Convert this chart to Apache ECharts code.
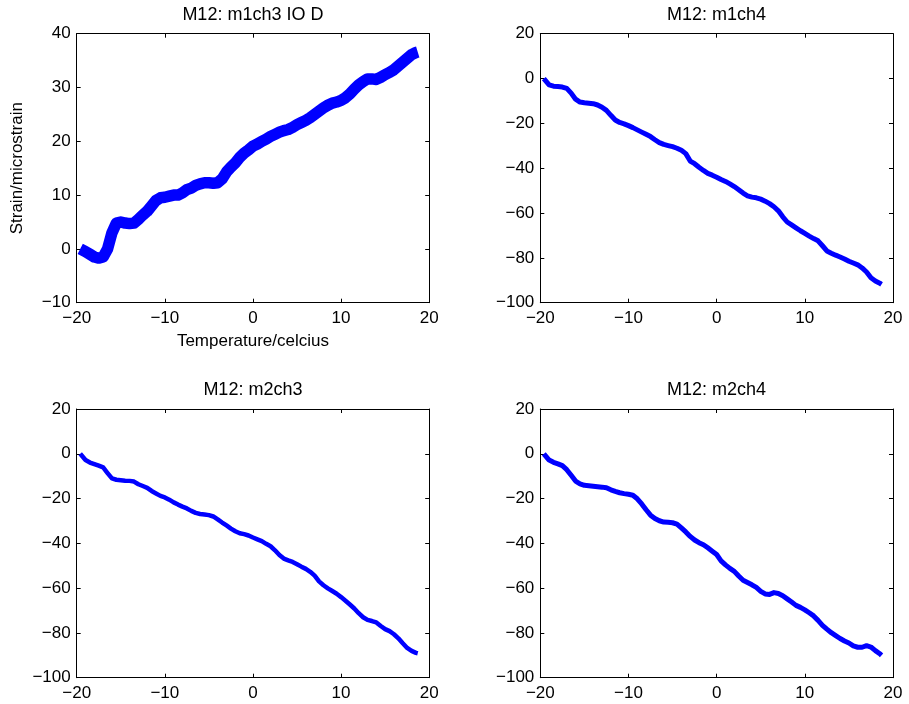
<!DOCTYPE html>
<html>
<head>
<meta charset="utf-8">
<script src="https://cdn.jsdelivr.net/npm/echarts@6/dist/echarts.min.js"></script>
<style>
html,body{margin:0;padding:0;background:#fff;}
#chart{width:909px;height:704px;}
</style>
</head>
<body>
<div id="chart"></div>
<script>
// Temperature (x) samples, degrees Celsius
const temps = [-19.6, -19, -18.5, -18, -17.5, -17, -16.5, -16, -15.5, -15,
  -14.5, -14, -13.5, -13, -12.5, -12, -11.5, -11, -10.5, -10,
  -9.5, -9, -8.5, -8, -7.5, -7, -6.5, -6, -5.5, -5,
  -4.5, -4, -3.5, -3, -2.5, -2, -1.5, -1, -0.5, 0,
  0.5, 1, 1.5, 2, 2.5, 3, 3.5, 4, 4.5, 5,
  5.5, 6, 6.5, 7, 7.5, 8, 8.5, 9, 9.5, 10,
  10.5, 11, 11.5, 12, 12.5, 13, 13.5, 14, 14.5, 15,
  15.5, 16, 16.5, 17, 17.5, 18, 18.5, 18.7];

// Strain (microstrain) per channel
const m1ch3 = [0, -0.5, -1, -1.5, -1.7, -1.5, 0, 3, 4.8, 5,
  4.8, 4.7, 4.8, 5.5, 6.3, 7, 8, 9, 9.5, 9.6,
  9.8, 10, 10, 10.4, 11, 11.3, 11.8, 12.1, 12.3, 12.3,
  12.2, 12.3, 13, 14.3, 15.2, 16, 17, 17.8, 18.4, 19.1,
  19.5, 20, 20.4, 20.9, 21.3, 21.7, 22, 22.2, 22.6, 23.1,
  23.5, 23.9, 24.4, 25, 25.6, 26.2, 26.7, 27.1, 27.3, 27.6,
  28.1, 28.8, 29.7, 30.5, 31.1, 31.6, 31.6, 31.5, 31.9, 32.4,
  32.8, 33.3, 34, 34.7, 35.4, 36.1, 36.5, 36.6];

const m1ch4 = [0, -2.8, -3.4, -3.6, -3.8, -4.4, -6.5, -9.2, -10.5, -10.8,
  -11, -11.2, -11.8, -12.8, -14.2, -16.4, -18.5, -19.6, -20.2, -21,
  -21.9, -22.9, -23.9, -24.9, -25.9, -27.3, -28.6, -29.4, -29.9, -30.4,
  -31.1, -32, -33.5, -36.8, -38, -39.6, -41, -42.3, -43.1, -44,
  -45, -45.9, -47, -48.2, -49.6, -51.1, -52.3, -52.9, -53.2, -53.8,
  -54.7, -55.8, -57.2, -59, -61.7, -64, -65.3, -66.6, -67.9, -69.1,
  -70.3, -71.4, -72.4, -74.6, -76.9, -77.9, -78.8, -79.6, -80.5, -81.5,
  -82.3, -83.1, -84.5, -86.3, -88.9, -90.3, -91.3, -91.8];

const m2ch3 = [0, -2.8, -3.9, -4.6, -5.3, -6.1, -8.6, -11, -11.6, -11.8,
  -12, -12.1, -12.4, -13.6, -14.4, -15.2, -16.6, -17.7, -18.8, -19.5,
  -20.5, -21.7, -22.7, -23.6, -24.4, -25.5, -26.4, -26.9, -27.1, -27.4,
  -28, -29.3, -30.7, -32, -33.4, -34.6, -35.5, -35.9, -36.5, -37.4,
  -38.2, -39, -40.2, -41.3, -43.1, -45.2, -46.8, -47.6, -48.3, -49.3,
  -50.4, -51.4, -52.7, -54.4, -57, -58.7, -60.1, -61.3, -62.5, -64,
  -65.6, -67.3, -69.1, -71.2, -73, -74.2, -74.7, -75.3, -76.9, -78.3,
  -79.2, -80.6, -82.4, -84.6, -86.7, -88, -88.9, -89.1];

const m2ch4 = [0, -2.8, -3.8, -4.5, -5.3, -7.1, -9.6, -12.2, -13.4, -14.1,
  -14.3, -14.5, -14.7, -14.9, -15.2, -16.1, -16.8, -17.4, -17.8, -18.1,
  -18.5, -20.1, -22.4, -25, -27.4, -28.9, -29.9, -30.5, -30.6, -30.8,
  -31.4, -33.1, -34.9, -36.9, -38.5, -39.7, -40.6, -42, -43.5, -45,
  -47.8, -49.6, -51.2, -52.5, -54.6, -56.5, -57.5, -58.5, -59.7, -61.4,
  -62.6, -62.8, -62, -62.4, -63.4, -64.8, -66.2, -67.7, -68.6, -69.7,
  -71, -72.4, -74.4, -76.6, -78.3, -79.9, -81.2, -82.5, -83.6, -84.5,
  -85.8, -86.4, -86.4, -85.7, -86.3, -87.9, -89.3, -90];

const titles = ['M12: m1ch3 IO D', 'M12: m1ch4', 'M12: m2ch3', 'M12: m2ch4'];
const yRanges = [[-10, 40, 10], [-100, 20, 20], [-100, 20, 20], [-100, 20, 20]];
const xRange = [-20, 20, 10];
const xName = 'Temperature/celcius';
const yName = 'Strain/microstrain';

const seriesValues = [m1ch3, m1ch4, m2ch3, m2ch4];
const lineWidths = [11.5, 5, 4.5, 5];

const FONT = '"Liberation Sans", Helvetica, Arial, sans-serif';
const grids = [
  {left: 76.7, top: 33.7, width: 352.5, height: 269},
  {left: 540.3, top: 33.7, width: 352.7, height: 269},
  {left: 76.7, top: 409, width: 352.5, height: 268.7},
  {left: 540.3, top: 409, width: 352.7, height: 268.7}
];
const titlePos = [[252.9, 6], [716.6, 6], [252.9, 381], [716.6, 381]];

const minusFmt = v => String(v).replace('-', '\u2212');

const xAxes = [], yAxes = [], series = [], titleOpts = [];
grids.forEach((g, i) => {
  const common = {
    gridIndex: i,
    type: 'value',
    splitLine: {show: false},
    axisLine: {show: true, onZero: false, lineStyle: {color: '#000', width: 1}},
    axisTick: {show: true, inside: true, length: 4, lineStyle: {color: '#000', width: 1}}
  };
  xAxes.push(Object.assign({}, common, {
    position: 'bottom', min: xRange[0], max: xRange[1], interval: xRange[2],
    axisLabel: {show: true, color: '#000', fontSize: 17, fontFamily: FONT, margin: 7, formatter: minusFmt},
    name: i === 0 ? xName : '', nameLocation: 'middle', nameGap: 30,
    nameTextStyle: {color: '#000', fontSize: 17, fontFamily: FONT}
  }));
  xAxes.push(Object.assign({}, common, {
    position: 'top', min: xRange[0], max: xRange[1], interval: xRange[2],
    axisLabel: {show: false}
  }));
  const yr = yRanges[i];
  yAxes.push(Object.assign({}, common, {
    position: 'left', min: yr[0], max: yr[1], interval: yr[2],
    axisLabel: {show: true, color: '#000', fontSize: 17, fontFamily: FONT, margin: 6, formatter: minusFmt},
    name: i === 0 ? yName : '', nameLocation: 'middle', nameGap: 51,
    nameTextStyle: {color: '#000', fontSize: 17, fontFamily: FONT}
  }));
  yAxes.push(Object.assign({}, common, {
    position: 'right', min: yr[0], max: yr[1], interval: yr[2],
    axisLabel: {show: false}
  }));
  series.push({
    type: 'line',
    xAxisIndex: i * 2,
    yAxisIndex: i * 2,
    data: temps.map((t, k) => [t, seriesValues[i][k]]),
    showSymbol: false,
    symbol: 'none',
    silent: true,
    animation: false,
    lineStyle: {color: '#0000ff', width: lineWidths[i], join: 'round', cap: 'butt'}
  });
  titleOpts.push({
    text: titles[i],
    left: titlePos[i][0],
    top: titlePos[i][1],
    textAlign: 'center',
    padding: 0,
    textStyle: {color: '#000', fontSize: 18, fontWeight: 'normal', fontFamily: FONT}
  });
});

const chart = echarts.init(document.getElementById('chart'), null, {renderer: 'canvas'});
chart.setOption({
  backgroundColor: '#fff',
  animation: false,
  title: titleOpts,
  grid: grids,
  xAxis: xAxes,
  yAxis: yAxes,
  series: series
});
</script>
</body>
</html>
